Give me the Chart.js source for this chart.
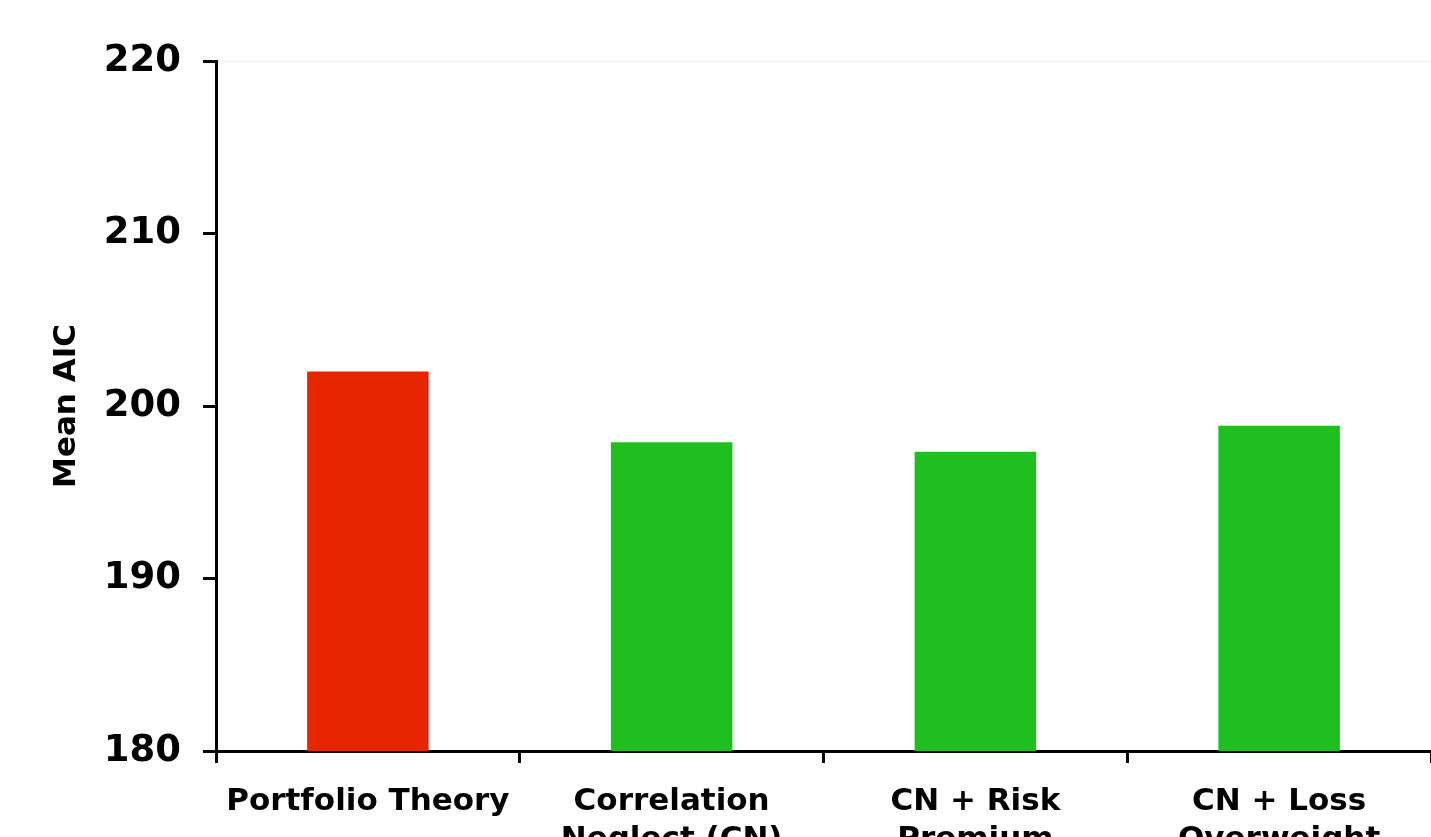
<!DOCTYPE html>
<html>
<head>
<meta charset="utf-8">
<script src="https://cdn.jsdelivr.net/npm/chart.js@4"></script>
<style>
  html, body { margin: 0; padding: 0; background: #fff; overflow: hidden; }
  #wrap { position: relative; width: 1431px; height: 880px; }
</style>
</head>
<body>
<div id="wrap"><canvas id="c"></canvas></div>
<script>
const categories = [
  ["Portfolio Theory"],
  ["Correlation", "Neglect (CN)"],
  ["CN + Risk", "Premium"],
  ["CN + Loss", "Overweight"]
];
const meanAIC = [202.0, 197.9, 197.35, 198.85];
const barColors = ["#E52600", "#1FBF1F", "#1FBF1F", "#1FBF1F"];
const yMin = 180, yMax = 220, yStep = 10;
const yTitle = "Mean AIC";

const FONT = "'DejaVu Sans', Verdana, sans-serif";

new Chart(document.getElementById('c'), {
  type: 'bar',
  data: {
    labels: categories,
    datasets: [{
      data: meanAIC,
      backgroundColor: barColors,
      borderWidth: 0,
      barPercentage: 0.4,
      categoryPercentage: 1.0
    }]
  },
  options: {
    responsive: true,
    maintainAspectRatio: false,
    animation: false,
    layout: { padding: { top: 61, left: 0, right: 0, bottom: 0 } },
    plugins: { legend: { display: false }, tooltip: { enabled: false } },
    scales: {
      x: {
        afterFit: (s) => { s.height = 129; },
        grid: {
          display: true,
          offset: true,
          color: 'transparent',
          drawTicks: true,
          tickLength: 12,
          tickColor: '#000',
          tickWidth: 3
        },
        border: { display: true, color: '#000', width: 3 },
        ticks: {
          color: '#000',
          padding: 20,
          maxRotation: 0,
          autoSkip: false,
          font: { family: FONT, size: 31, weight: 'bold', lineHeight: 1.22 }
        }
      },
      y: {
        min: yMin,
        max: yMax,
        afterFit: (s) => { s.width = 216; },
        grid: {
          display: true,
          color: (ctx) => (ctx.tick && ctx.tick.value === yMax) ? '#f2f2f2' : 'transparent',
          lineWidth: 1,
          drawTicks: true,
          tickLength: 13,
          tickColor: '#000',
          tickWidth: 3
        },
        border: { display: true, color: '#000', width: 3 },
        ticks: {
          stepSize: yStep,
          color: '#000',
          padding: 22,
          font: { family: FONT, size: 37, weight: 'bold' }
        },
        title: {
          display: true,
          text: yTitle,
          color: '#000',
          padding: { top: 48, bottom: 0 },
          font: { family: FONT, size: 31, weight: 'bold', lineHeight: 1.2 }
        }
      }
    }
  }
});
</script>
</body>
</html>
